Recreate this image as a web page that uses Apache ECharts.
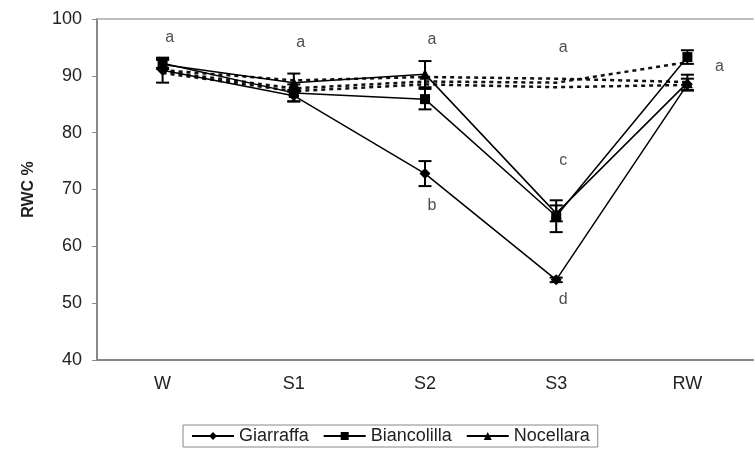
<!DOCTYPE html>
<html><head><meta charset="utf-8">
<script src="https://cdn.jsdelivr.net/npm/echarts@6/dist/echarts.min.js"></script>
<style>html,body{margin:0;padding:0;background:#fff}#c{width:755px;height:456px}</style>
</head><body><div id="c"></div>
<script>
const categories = ['W', 'S1', 'S2', 'S3', 'RW'];
const yTicks = [40, 50, 60, 70, 80, 90, 100];
// stressed plants (solid lines)
const giarraffa   = [91.0, 86.5, 72.8, 54.1, 88.5];
const biancolilla = [92.2, 87.0, 85.9, 65.3, 93.3];
const nocellara   = [92.0, 88.8, 90.3, 65.8, 88.8];
// standard errors
const giarraffaErr   = [2.2, 1.0, 2.2, 0.4, 1.0];
const biancolillaErr = [0.8, 1.5, 1.8, 2.8, 1.2];
const nocellaraErr   = [0.8, 1.6, 2.3, 1.4, 1.4];
// controls (dotted lines)
const giarraffaCtrl   = [90.5, 87.3, 88.5, 88.0, 88.4];
const biancolillaCtrl = [90.8, 87.8, 89.0, 88.8, 92.4];
const nocellaraCtrl   = [91.0, 89.2, 89.8, 89.5, 88.9];
// significance letters: [category index, y value, letter]
const letters = [[0, 96.8, 'a'], [1, 95.8, 'a'], [2, 96.3, 'a'], [3, 94.9, 'a'], [4, 91.6, 'a'],
                 [2, 67.1, 'b'], [3, 75.0, 'c'], [3, 50.6, 'd']];

const FONT = '"Liberation Sans", Arial, sans-serif';
const chart = echarts.init(document.getElementById('c'), null, {renderer: 'canvas'});

function errSeries(vals, errs) {
  return {
    type: 'custom', z: 3, silent: true,
    data: vals.map((v, i) => [i, v, errs[i]]),
    renderItem: function (params, api) {
      const i = api.value(0), v = api.value(1), e = api.value(2);
      const hi = api.coord([i, v + e]), lo = api.coord([i, v - e]);
      const w = 6.5;
      const st = {stroke: '#000', lineWidth: 2};
      return {type: 'group', children: [
        {type: 'line', shape: {x1: hi[0], y1: hi[1], x2: lo[0], y2: lo[1]}, style: st},
        {type: 'line', shape: {x1: hi[0] - w, y1: hi[1], x2: hi[0] + w, y2: hi[1]}, style: st},
        {type: 'line', shape: {x1: lo[0] - w, y1: lo[1], x2: lo[0] + w, y2: lo[1]}, style: st}
      ]};
    }
  };
}
function stressSeries(name, vals, symbol, size) {
  return {name, type: 'line', data: vals, symbol, symbolSize: size, z: 5,
    itemStyle: {color: '#000'}, lineStyle: {color: '#000', width: 1.5}};
}
function ctrlSeries(name, vals) {
  return {name, type: 'line', data: vals, symbol: 'none', z: 2,
    lineStyle: {color: '#111', width: 2.5, type: [4, 4]}};
}

chart.setOption({
  animation: false,
  backgroundColor: '#fff',
  grid: {left: 97, top: 19, width: 656, height: 341},
  xAxis: [{
    type: 'category', data: categories, position: 'bottom',
    axisLine: {lineStyle: {color: '#888', width: 2}},
    axisTick: {show: false},
    axisLabel: {color: '#222', fontSize: 18, fontFamily: FONT, margin: 15}
  }, {
    type: 'category', data: categories, position: 'top',
    axisLine: {lineStyle: {color: '#aaa', width: 1.5}},
    axisTick: {show: false}, axisLabel: {show: false}
  }],
  yAxis: {
    type: 'value', min: yTicks[0], max: yTicks[yTicks.length - 1], interval: 10,
    name: 'RWC %', nameLocation: 'middle', nameGap: 60, nameRotate: 90,
    nameTextStyle: {color: '#222', fontSize: 16, fontWeight: 'bold', fontFamily: FONT},
    axisLine: {show: true, lineStyle: {color: '#888', width: 2}},
    axisTick: {show: true, length: 5, lineStyle: {color: '#888'}},
    axisLabel: {color: '#222', fontSize: 18, fontFamily: FONT, margin: 15},
    splitLine: {show: false}
  },
  legend: {
    data: ['Giarraffa', 'Biancolilla', 'Nocellara'],
    left: 183, top: 425, itemWidth: 42, itemHeight: 10, itemGap: 14,
    padding: [2, 8, 2, 8],
    borderColor: '#888', borderWidth: 1, backgroundColor: '#fff',
    textStyle: {color: '#222', fontSize: 18, fontFamily: FONT}
  },
  series: [
    ctrlSeries('Giarraffa control', giarraffaCtrl),
    ctrlSeries('Biancolilla control', biancolillaCtrl),
    ctrlSeries('Nocellara control', nocellaraCtrl),
    stressSeries('Giarraffa', giarraffa, 'diamond', 11),
    stressSeries('Biancolilla', biancolilla, 'rect', 10),
    stressSeries('Nocellara', nocellara, 'triangle', 11),
    errSeries(giarraffa, giarraffaErr),
    errSeries(biancolilla, biancolillaErr),
    errSeries(nocellara, nocellaraErr),
    {
      type: 'scatter', symbolSize: 0, z: 6, silent: true,
      data: letters.map(l => ({value: [l[0], l[1]], letter: l[2],
        label: {offset: l[0] === 4 ? [32, 0] : [7, 0]}})),
      label: {show: true, position: 'inside', color: '#222', fontSize: 16, fontFamily: FONT,
        formatter: p => p.data.letter}
    }
  ]
});
</script>
</body></html>
